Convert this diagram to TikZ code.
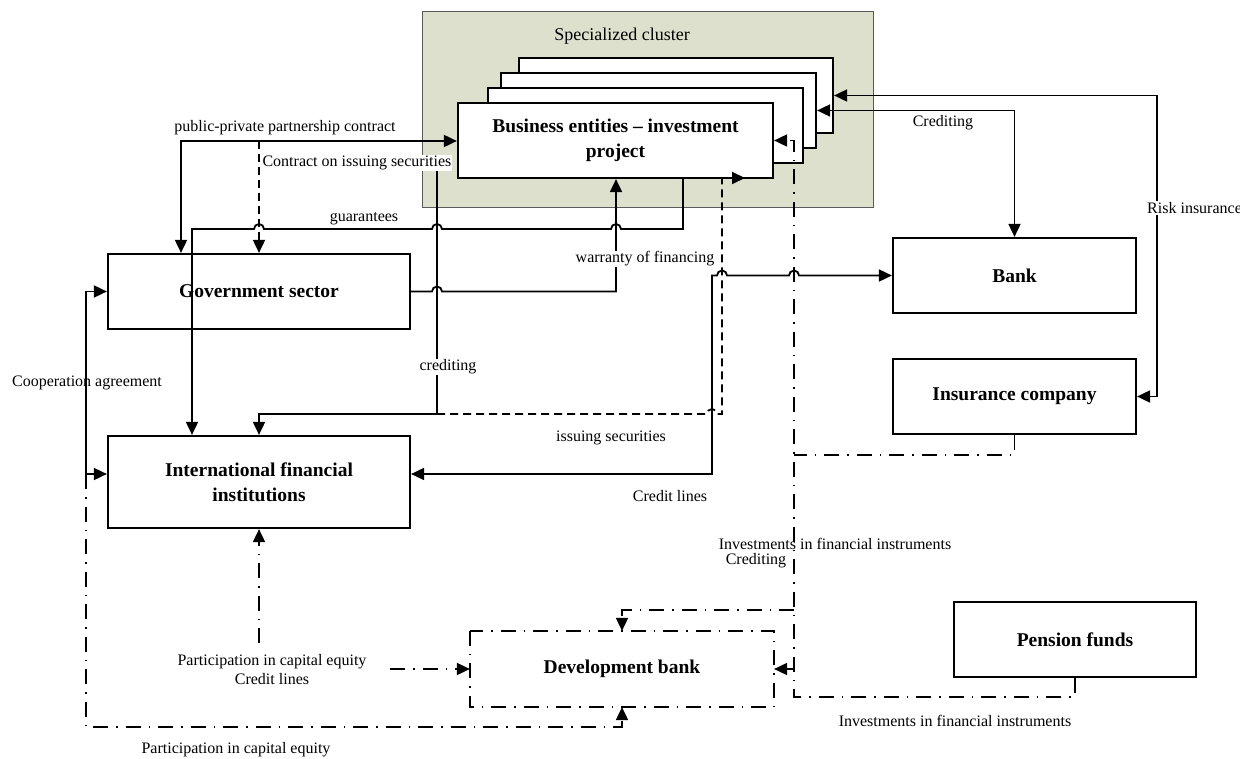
\documentclass[tikz,border=0pt]{standalone}
\usepackage{fontspec}
\setmainfont{Liberation Serif}
\usetikzlibrary{arrows.meta}
\definecolor{clusterbg}{RGB}{221,224,204}
\definecolor{clusterln}{RGB}{90,90,90}
\newcommand{\lblfont}{\fontsize{16}{19}\selectfont}
\newcommand{\boxfont}{\fontsize{19.5}{25}\selectfont\bfseries}
\newcommand{\ttlfont}{\fontsize{18}{21}\selectfont}
\begin{document}
\begin{tikzpicture}[x=1pt,y=-1pt,
 box/.style={draw,line width=2.2pt,fill=white,inner sep=0pt,font=\boxfont,align=center,minimum height=75pt},
 ln/.style={line width=1.8pt},
 dsh/.style={line width=1.8pt,dash pattern=on 8pt off 5pt},
 ddot/.style={line width=1.8pt,dash pattern=on 15pt off 8pt on 1.5pt off 8pt},
 tipe/.style={-{Triangle[length=13pt,width=12pt]}},
 tipb/.style={{Triangle[length=13pt,width=12pt]}-{Triangle[length=13pt,width=12pt]}},
 lbl/.style={font=\lblfont,inner sep=1pt},
]
\useasboundingbox (0,0) rectangle (1240,759);

% cluster
\node[draw=clusterln,fill=clusterbg,line width=1pt,minimum width=451pt,minimum height=196pt,inner sep=0pt] (cluster) at (647.5,110) {};
\node[font=\ttlfont] (ctitle) at (622,36) {Specialized cluster};
\node[box,minimum width=314pt] (box4) at (676,95.5) {};
\node[box,minimum width=315pt] (box3) at (658.5,110.5) {};
\node[box,minimum width=315pt] (box2) at (645.5,125.5) {};
\node[box,minimum width=315pt] (main) at (615.5,140.5) {Business entities -- investment\\project};

% other boxes
\node[box,minimum width=302pt] (gov) at (259,291.5) {Government sector};
\node[box,minimum width=302pt,minimum height=92pt] (ifi) at (259,482) {International financial\\institutions};
\node[box,minimum width=243pt] (bank) at (1014.5,275.5) {Bank};
\node[box,minimum width=243pt] (ins) at (1014.5,396.5) {Insurance company};
\node[box,minimum width=242pt] (pen) at (1075,639.5) {Pension funds};
\node[box,draw=none,minimum width=302pt,minimum height=74pt] (db) at (622,669) {Development bank};
\draw[ddot,line width=2pt] (db.north west) rectangle (db.south east);

% coordinates
\coordinate (ppp) at (181,141);
\coordinate (cis) at (259,141);
\coordinate (crx) at (437,414);
\coordinate (ifix) at (259,414);
\coordinate (g1) at (683,229);
\coordinate (g2) at (192,229);
\coordinate (w1) at (616,291.5);
\coordinate (is1) at (722,414);
\coordinate (is2) at (722,178);
\coordinate (is3) at (745,178);
\coordinate (cl1) at (712,474);
\coordinate (cl2) at (712,275.5);
\coordinate (cb) at (1014.5,110.5);
\coordinate (ri1) at (1157,95.5);
\coordinate (ri2) at (1157,396.5);
\coordinate (co1) at (86,291.5);
\coordinate (co2) at (86,474);
\coordinate (b1) at (86,727);
\coordinate (b2) at (622,727);
\coordinate (pc1) at (259,643);
\coordinate (pc2) at (390,669);
\coordinate (v1) at (794,140.5);
\coordinate (v2) at (794,697);
\coordinate (pf1) at (1075,697);
\coordinate (in1) at (1014.5,455);
\coordinate (in2) at (794,455);
\coordinate (dt1) at (794,610);
\coordinate (dt2) at (622,610);
\coordinate (dr1) at (794,669);

% labels with white background
\node[lbl,fill=white] (cislbl) at (357,163) {Contract on issuing securities};

% connectors
\draw[ln,tipb] (gov.north -| ppp) -- (ppp) -- (main.west |- ppp);
\draw[dsh,tipe] (cis) -- (gov.north -| cis);
\draw[ln,tipe] (crx |- cislbl.south) -- (crx) -- (ifix) -- (ifi.north);
\draw[ln,tipe] (main.south -| g1) -- (g1) -- (621,229) arc[start angle=0,end angle=180,radius=5pt]
  -- (442,229) arc[start angle=0,end angle=180,radius=5pt]
  -- (264,229) arc[start angle=0,end angle=180,radius=5pt] -- (g2) -- (ifi.north -| g2);
\draw[ln,tipe] (gov.east) -- (432,291.5) arc[start angle=180,end angle=0,radius=5pt] -- (w1) -- (main.south -| w1);
\draw[dsh,tipe] (crx) -- (707,414) arc[start angle=180,end angle=0,radius=5pt] -- (is1) -- (is2) -- (is3);
\draw[ln,tipb] (ifi.east |- cl1) -- (cl1) -- (cl2) -- (717,275.5) arc[start angle=180,end angle=0,radius=5pt]
  -- (789,275.5) arc[start angle=180,end angle=0,radius=5pt] -- (bank.west);
\draw[ln,tipb] (box3.east) -- (cb) -- (bank.north);
\draw[ln,tipb] (box4.east) -- (ri1) -- (ri2) -- (ins.east);
\draw[ln,tipb] (gov.west) -- (co1) -- (co2) -- (ifi.west |- co2);
\draw[ddot,tipe] (co2) -- (b1) -- (b2) -- (db.south);
\draw[ddot,tipe] (pc1) -- (ifi.south -| pc1);
\draw[ddot,tipe] (pc2) -- (db.west |- pc2);
\draw[ddot,tipe] (pen.south) -- (pf1) -- (v2) -- (v1) -- (main.east);
\draw[ddot] (ins.south) -- (in1) -- (in2);
\draw[ddot,tipe] (dt1) -- (dt2) -- (db.north);
\draw[ddot,tipe] (dr1) -- (db.east);

% labels
\node[lbl] (lppp) at (285,128) {public-private partnership contract};
\node[lbl,fill=white] (lcred) at (448,367) {crediting};
\node[lbl] (lguar) at (364,219) {guarantees};
\node[lbl,fill=white] (lwar) at (645,259) {warranty of financing};
\node[lbl] (liss) at (611,438) {issuing securities};
\node[lbl] (lcl) at (670,496) {Credit lines};
\node[lbl] (lcb) at (943,123) {Crediting};
\node[lbl,fill=white,anchor=west] (lri) at (1146,208) {Risk insurance};
\node[lbl] (lco) at (87,383) {Cooperation agreement};
\node[lbl] (lpce) at (236,750) {Participation in capital equity};
\node[lbl,fill=white,align=center] (pcl) at (272,670) {Participation in capital equity\\Credit lines};
\node[lbl] (linv) at (835,544) {Investments in financial instruments};
\node[lbl] (lcr2) at (756,561) {Crediting};
\node[lbl] (linv2) at (955,721) {Investments in financial instruments};
\end{tikzpicture}
\end{document}
